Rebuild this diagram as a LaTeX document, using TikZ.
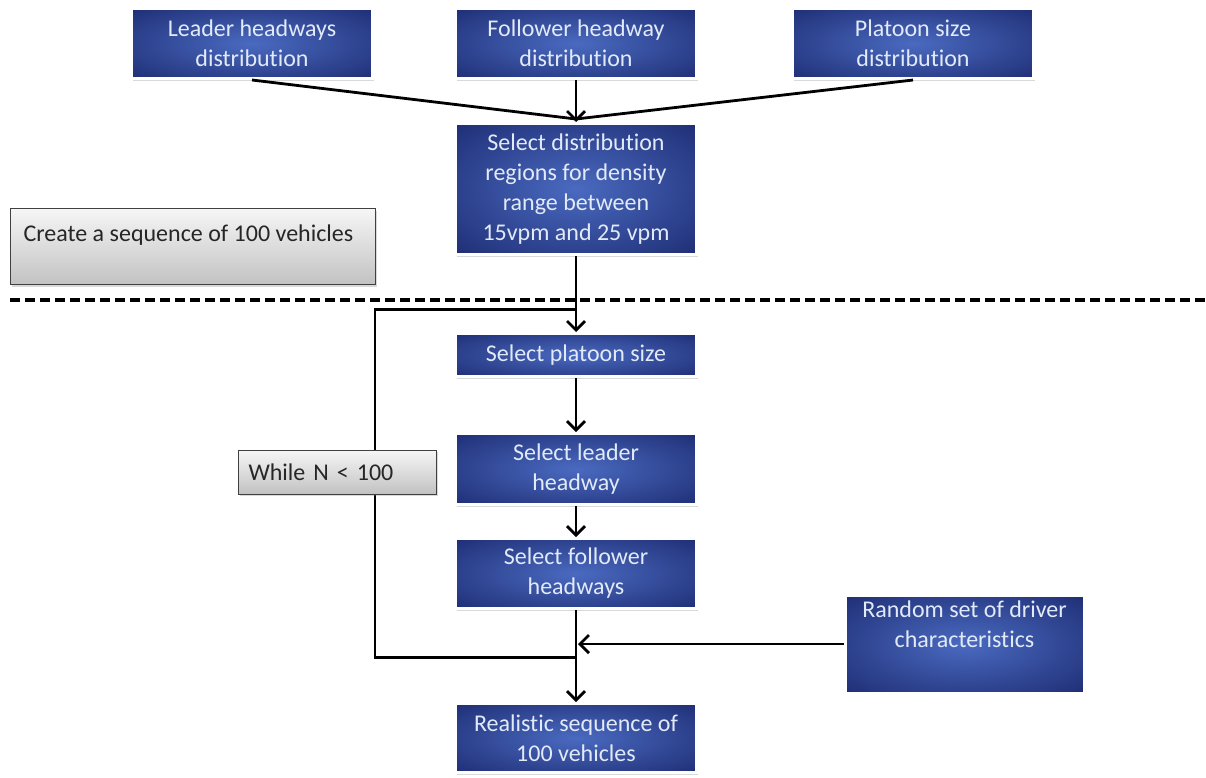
\documentclass[tikz,border=0pt]{standalone}
\usepackage{fontspec}
\setmainfont{Carlito}[Ligatures=NoCommon]
\usepackage{xcolor}
\usepackage{tikz}
\usetikzlibrary{arrows.meta, positioning, shadows, backgrounds, calc}

\definecolor{navyedge}{RGB}{28,42,112}
\definecolor{navymid}{RGB}{74,106,192}
\definecolor{paletext}{RGB}{226,234,248}
\definecolor{greytop}{RGB}{246,246,246}
\definecolor{greybot}{RGB}{194,194,194}

\pgfdeclareradialshading{boxglow}{\pgfpoint{0bp}{0bp}}{color(0bp)=(navymid); color(38bp)=(navyedge); color(50bp)=(navyedge)}

\begin{document}
\begin{tikzpicture}[
    x=1pt, y=1pt,
    node distance=40pt,
    blockbox/.style={rectangle, draw=white, line width=3pt, shading=boxglow, minimum width=241pt, text=paletext, font=\fontsize{24}{30}\selectfont, align=center, drop shadow={shadow xshift=1pt, shadow yshift=-2pt, opacity=0.3}},
    notebox/.style={rectangle, draw=black!75, line width=1pt, top color=greytop, bottom color=greybot, font=\fontsize{24}{30}\selectfont, text=black!85, drop shadow={shadow xshift=1pt, shadow yshift=-2pt, opacity=0.3}},
    arrow/.style={-{Straight Barb[length=9pt, width=18pt]}, line width=2.8pt},
    link/.style={line width=2.8pt}
]
    \useasboundingbox (0,0) rectangle (1206,-777);

    \node[blockbox, minimum height=70pt] (folldist) at (576,-43.5) {Follower headway\\distribution};
    \node[blockbox, minimum height=70pt, left=80pt of folldist] (leaddist) {Leader headways\\distribution};
    \node[blockbox, minimum height=70pt, right=93pt of folldist] (sizedist) {Platoon size\\distribution};
    \node[blockbox, minimum height=131pt, below=42pt of folldist] (region) {Select distribution\\regions for density\\range between\\15vpm and 25 vpm};
    \node[blockbox, minimum height=43pt, below=76pt of region] (pickplatoon) {Select platoon size};
    \node[blockbox, minimum height=71pt, below=54pt of pickplatoon] (pickleader) {Select leader\\headway};
    \node[blockbox, minimum height=70pt, below=31pt of pickleader] (pickfollower) {Select follower\\headways};
    \node[blockbox, minimum height=69pt, below=92pt of pickfollower] (result) {Realistic sequence of\\100 vehicles};

    \node[blockbox, minimum height=98pt, minimum width=239pt, anchor=north west] (driverbox) at (843.5,-593.5) {};
    \node[text=paletext, font=\fontsize{24}{30}\selectfont, align=center, anchor=north] (drivertext) at ([yshift=-4pt]driverbox.north) {Random set of driver\\characteristics};

    \node[notebox, minimum width=365pt, minimum height=76pt, anchor=north west] (seqbox) at (10,-208) {};
    \node[font=\fontsize{24}{30}\selectfont, text=black!85, anchor=north west] (seqtext) at ([xshift=10pt,yshift=-13pt]seqbox.north west) {Create a sequence of 100 vehicles};
    \node[notebox, text width=178pt, inner xsep=10pt, minimum height=44pt, align=left, left=17pt of pickleader, yshift=-3pt] (whilebox) {While N < 100};

    % separator
    \draw[line width=3.5pt, dash pattern=on 10pt off 5pt] (10,-300) -- (1206,-300);

    \coordinate (loopin) at ($(region.south)!0.70!(pickplatoon.north)$);
    \coordinate (loopout) at ($(pickfollower.south)!0.52!(result.north)$);

    \draw[link] (leaddist.south) -- ([yshift=3pt]region.north);
    \draw[link] (sizedist.south) -- ([yshift=3pt]region.north);
    \draw[arrow] (folldist) -- (region);
    \draw[arrow] (region) -- (pickplatoon);
    \draw[arrow] (pickplatoon) -- (pickleader);
    \draw[arrow] (pickleader) -- (pickfollower);
    \draw[arrow] (pickfollower) -- (result);
    \draw[arrow] (driverbox.west) -- ([xshift=2pt]driverbox.west -| pickfollower.south);

    % loop back while N < 100
    \begin{scope}[on background layer]
        \draw[link] (loopout) -| ([xshift=-201pt]loopin) -- (loopin);
    \end{scope}
\end{tikzpicture}
\end{document}
